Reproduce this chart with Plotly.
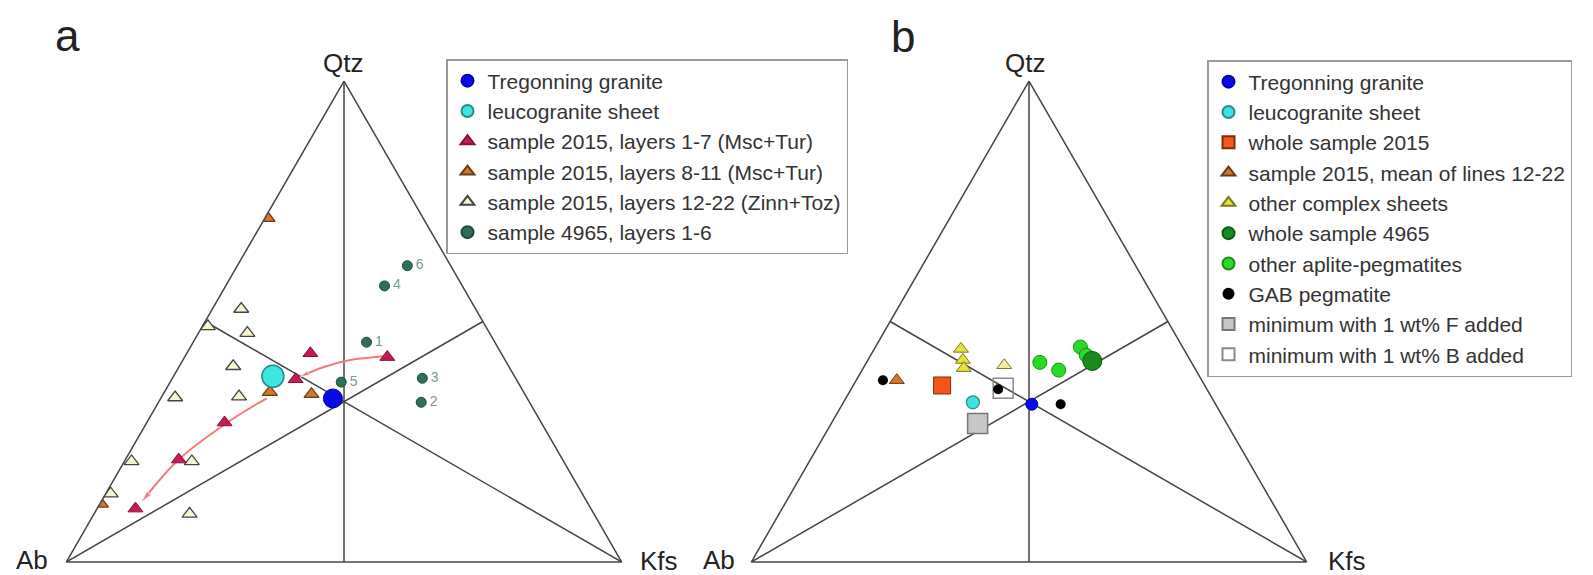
import plotly.graph_objects as go

FONT = "Arial, Liberation Sans, sans-serif"

# ---------------- structural lines (ternary coords: Qtz, Ab, Kfs, in %) -------------
med_q = [100, 0, None, 0, 50, None, 0, 50]
med_ab = [0, 50, None, 100, 0, None, 0, 50]
med_k = [0, 50, None, 0, 50, None, 100, 0]

# ---------------- panel a data ----------------
gran_a_q, gran_a_ab, gran_a_k = [34.0], [35.0], [31.0]
leuco_a_q, leuco_a_ab, leuco_a_k = [38.6], [43.5], [17.9]

l17_q = [42.6, 43.4, 38.0, 29.0, 21.3, 11.1]
l17_ab = [20.9, 34.35, 39.7, 57.0, 69.1, 82.0]
l17_k = [36.5, 22.25, 22.3, 14.0, 9.6, 6.9]

l811_q = [71.5, 35.3, 34.9, 12.1]
l811_ab = [28.0, 45.7, 38.4, 87.7]
l811_k = [0.5, 19.0, 26.7, 0.2]

l1222_q = [52.6, 49.0, 47.6, 40.7, 34.2, 34.4, 20.9, 20.9, 14.2, 10.0]
l1222_ab = [42.2, 50.0, 43.6, 49.6, 63.3, 51.7, 77.8, 66.95, 84.9, 72.8]
l1222_k = [5.2, 1.0, 8.8, 9.7, 2.5, 13.9, 1.3, 12.15, 0.9, 17.2]

s4965_q = [45.7, 33.2, 38.2, 57.4, 37.4, 61.6]
s4965_ab = [23.1, 19.5, 16.8, 14.0, 31.8, 7.8]
s4965_k = [31.2, 47.3, 45.0, 28.6, 30.8, 30.6]
s4965_lbl = ["1", "2", "3", "4", "5", "6"]

trend1_q = [42.8, 42.0, 40.5, 38.6]
trend1_ab = [21.5, 27.9, 33.5, 38.5]
trend1_k = [35.7, 30.1, 26.0, 22.9]

trend2_q = [34.0, 31.5, 28.6, 21.3, 12.7]
trend2_ab = [46.9, 51.9, 57.2, 69.1, 79.95]
trend2_k = [19.1, 16.6, 14.2, 9.6, 7.35]

# ---------------- panel b data ----------------
gran_b_q, gran_b_ab, gran_b_k = [32.8], [33.1], [34.1]
leuco_b_q, leuco_b_ab, leuco_b_k = [33.2], [43.5], [23.3]
whole2015_q, whole2015_ab, whole2015_k = [36.7], [47.3], [16.0]
mean1222_q, mean1222_ab, mean1222_k = [37.8], [54.9], [7.3]
cplx_q = [44.3, 42.0, 40.3, 40.9]
cplx_ab = [40.1, 40.9, 41.6, 34.0]
cplx_k = [15.6, 17.1, 18.1, 25.1]
whole4965_q, whole4965_ab, whole4965_k = [41.8], [17.7], [40.5]
apl_q = [41.5, 39.9, 44.7, 43.0]
apl_ab = [27.3, 24.7, 18.4, 18.2]
apl_k = [31.2, 35.4, 36.9, 38.8]
gab_q = [37.8, 35.9, 32.8]
gab_ab = [57.4, 37.6, 27.9]
gab_k = [4.8, 26.5, 39.3]
minF_q, minF_ab, minF_k = [28.8], [44.85], [26.35]
minB_q, minB_ab, minB_k = [36.1], [36.6], [27.3]

# page body has an 8px default margin -> figure sized to fit the window
OFF = 8
W, H = 1593 - OFF, 575 - OFF


def fx(x):
    return (x - OFF) / W


def fy(y):
    return 1 - (y - OFF) / H


fig = go.Figure()


def add(q, ab, k, sub, **kw):
    fig.add_trace(go.Scatterternary(a=q, b=ab, c=k, subplot=sub, hoverinfo="skip", **kw))


for sub in ["ternary", "ternary2"]:
    add(med_q, med_ab, med_k, sub, mode="lines", line=dict(color="#444", width=1.5),
        showlegend=False, connectgaps=False)

# ---- panel a traces (drawing order) ----
L1 = "legend"
add(l1222_q, l1222_ab, l1222_k, "ternary", mode="markers", name="sample 2015, layers 12-22 (Zinn+Toz)",
    marker=dict(symbol="triangle-up", size=13, color="#f8f4cf", line=dict(color="#444", width=1.3)),
    legend=L1, legendrank=5)
add(l811_q, l811_ab, l811_k, "ternary", mode="markers", name="sample 2015, layers 8-11 (Msc+Tur)",
    marker=dict(symbol="triangle-up", size=13, color="#d0782e", line=dict(color="#6a3a1a", width=1.2)),
    legend=L1, legendrank=4)
add(s4965_q, s4965_ab, s4965_k, "ternary", mode="markers", name="sample 4965, layers 1-6",
    marker=dict(symbol="circle", size=10, color="#2f6e5a", line=dict(color="#1d4a3c", width=1)),
    legend=L1, legendrank=6)
add(s4965_q, s4965_ab, s4965_k, "ternary", mode="markers+text", text=s4965_lbl,
    textposition="middle right", marker=dict(size=12, opacity=0),
    textfont=dict(family=FONT, size=14, color="#7a979c"), showlegend=False)
add(trend1_q, trend1_ab, trend1_k, "ternary", mode="lines+markers",
    line=dict(color="#f27a7a", width=2, shape="spline"),
    marker=dict(symbol="arrow", angleref="previous", size=[0, 0, 0, 9], color="#f27a7a"),
    showlegend=False)
add(trend2_q, trend2_ab, trend2_k, "ternary", mode="lines+markers",
    line=dict(color="#f27a7a", width=2, shape="spline"),
    marker=dict(symbol="arrow", angleref="previous", size=[0, 0, 0, 0, 11], color="#f27a7a"),
    showlegend=False)
add(l17_q, l17_ab, l17_k, "ternary", mode="markers", name="sample 2015, layers 1-7 (Msc+Tur)",
    marker=dict(symbol="triangle-up", size=13, color="#c41c50", line=dict(color="#8a1038", width=1)),
    legend=L1, legendrank=3)
add(leuco_a_q, leuco_a_ab, leuco_a_k, "ternary", mode="markers", name="leucogranite sheet",
    marker=dict(symbol="circle", size=22, color="#3fe6e0", line=dict(color="#2a8a86", width=1.5)),
    legend=L1, legendrank=2)
add(gran_a_q, gran_a_ab, gran_a_k, "ternary", mode="markers", name="Tregonning granite",
    marker=dict(symbol="circle", size=19, color="#0a0ae8", line=dict(color="#0000a0", width=1)),
    legend=L1, legendrank=1)

# ---- panel b traces ----
L2 = "legend2"
add(minF_q, minF_ab, minF_k, "ternary2", mode="markers", name="minimum with 1 wt% F added",
    marker=dict(symbol="square", size=20, color="#c8c8c8", line=dict(color="#777", width=1.5)),
    legend=L2, legendrank=9)
add(minB_q, minB_ab, minB_k, "ternary2", mode="markers", name="minimum with 1 wt% B added",
    marker=dict(symbol="square-open", size=20, color="#8a8a8a", line=dict(width=1.5)),
    legend=L2, legendrank=10)
add(whole2015_q, whole2015_ab, whole2015_k, "ternary2", mode="markers", name="whole sample 2015",
    marker=dict(symbol="square", size=17, color="#f5541a", line=dict(color="#7a3010", width=1)),
    legend=L2, legendrank=3)
add(mean1222_q, mean1222_ab, mean1222_k, "ternary2", mode="markers", name="sample 2015, mean of lines 12-22",
    marker=dict(symbol="triangle-up", size=13, color="#d2762a", line=dict(color="#6a3a1a", width=1)),
    legend=L2, legendrank=4)
add(cplx_q, cplx_ab, cplx_k, "ternary2", mode="markers", name="other complex sheets",
    marker=dict(symbol="triangle-up", size=13, color=["#e6e23a", "#e6e23a", "#e6e23a", "#f0eea0"],
                line=dict(color="#7a7a20", width=1)),
    legend=L2, legendrank=5)
add(apl_q, apl_ab, apl_k, "ternary2", mode="markers", name="other aplite-pegmatites",
    marker=dict(symbol="circle", size=14, color="#2ada2a", line=dict(color="#139013", width=1)),
    legend=L2, legendrank=7)
add(whole4965_q, whole4965_ab, whole4965_k, "ternary2", mode="markers", name="whole sample 4965",
    marker=dict(symbol="circle", size=19, color="#1a8a1e", line=dict(color="#0c5a10", width=1)),
    legend=L2, legendrank=6)
add(leuco_b_q, leuco_b_ab, leuco_b_k, "ternary2", mode="markers", name="leucogranite sheet",
    marker=dict(symbol="circle", size=13, color="#3fe0e0", line=dict(color="#2a8a86", width=1.2)),
    legend=L2, legendrank=2)
add(gran_b_q, gran_b_ab, gran_b_k, "ternary2", mode="markers", name="Tregonning granite",
    marker=dict(symbol="circle", size=12, color="#0a0ae8", line=dict(color="#0000a0", width=1)),
    legend=L2, legendrank=1)
add(gab_q, gab_ab, gab_k, "ternary2", mode="markers", name="GAB pegmatite",
    marker=dict(symbol="circle", size=10, color="#000000"),
    legend=L2, legendrank=8)

axis = dict(showgrid=False, showticklabels=False, ticks="", showline=True,
            linecolor="#444", linewidth=1.5, title=dict(text=""), min=0)
ydom = [fy(562), fy(81)]
half = 300 / W
tern_a = dict(sum=100, domain=dict(x=[fx(344) - half, fx(344) + half], y=ydom),
              bgcolor="white", aaxis=axis, baxis=axis, caxis=axis)
tern_b = dict(sum=100, domain=dict(x=[fx(1029) - half, fx(1029) + half], y=ydom),
              bgcolor="white", aaxis=axis, baxis=axis, caxis=axis)


def px(x, y, text, size):
    return dict(x=fx(x), y=fy(y), xref="paper", yref="paper", text=text, showarrow=False,
                xanchor="center", yanchor="middle", font=dict(family=FONT, size=size, color="#222"))


annotations = [
    px(67, 35, "a", 44), px(903, 36, "b", 44),
    px(342.5, 63, "Qtz", 26), px(31.5, 560, "Ab", 26), px(658.5, 561, "Kfs", 26),
    px(1025, 63, "Qtz", 26), px(718.5, 560, "Ab", 26), px(1346.5, 561, "Kfs", 26),
]

fig.update_layout(
    width=W, height=H, margin=dict(l=0, r=0, t=0, b=0),
    paper_bgcolor="white", plot_bgcolor="white",
    font=dict(family=FONT, color="#222"),
    ternary=tern_a, ternary2=tern_b,
    annotations=annotations,
    legend=dict(x=fx(446), y=fy(59), xanchor="left", yanchor="top", bgcolor="white",
                bordercolor="#9a9a9a", borderwidth=1.5, itemsizing="constant", tracegroupgap=0,
                font=dict(family=FONT, size=21, color="#333")),
    legend2=dict(x=fx(1207), y=fy(60), xanchor="left", yanchor="top", bgcolor="white",
                 bordercolor="#9a9a9a", borderwidth=1.5, itemsizing="constant", tracegroupgap=0,
                 font=dict(family=FONT, size=21, color="#333")),
)

fig.write_html("out.html")
